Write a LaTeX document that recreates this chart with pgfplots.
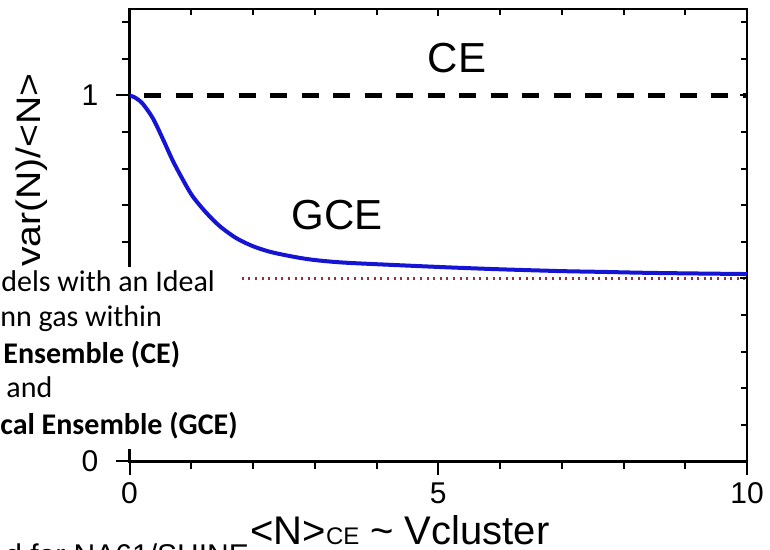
\documentclass[border=0pt]{standalone}
\usepackage{pgfplots}
\pgfplotsset{compat=1.18}
\usepackage{graphicx}
\usepackage{fontspec}
\setmainfont{Liberation Sans}
\newfontfamily\carlito{Carlito}
\definecolor{curveblue}{RGB}{20,20,210}
\definecolor{dotred}{RGB}{150,50,50}

\begin{document}
\begin{tikzpicture}
\useasboundingbox (0,0) rectangle (385pt,275pt);
\clip (0,0) rectangle (385pt,275pt);

% main axis: box, outward ticks on left/bottom
\begin{axis}[
    at={(64.75pt,44.25pt)}, anchor=south west,
    scale only axis, width=308.75pt, height=226.25pt,
    xmin=0, xmax=10, ymin=0, ymax=1.236,
    axis line style={line width=1.3pt},
    xtick={0,5,10}, ytick={0,0.5,1},
    minor xtick={1,2,3,4,6,7,8,9},
    minor ytick={0.1,0.2,0.3,0.4,0.6,0.7,0.8,0.9,1.1,1.2},
    xtick pos=left, ytick pos=left, tick align=outside,
    major tick length=7pt, minor tick length=4pt,
    tick style={line width=1pt, black},
    xticklabel style={font=\fontsize{15}{15}\selectfont},
    yticklabel style={font=\fontsize{15}{15}\selectfont, xshift=-5pt},
    /pgf/number format/assume math mode=true,
]
\addplot[dotred, line width=1.1pt, dash pattern=on 1pt off 2.3pt] coordinates {(0,0.5) (10,0.5)};
\addplot[black, line width=2.3pt, dash pattern=on 8.5pt off 7.25pt, dash phase=8.5pt] coordinates {(0,1) (10,1)};
\addplot[curveblue, line width=2pt, smooth] coordinates {
    (0,1.000) (0.1,0.993) (0.215,0.977) (0.38,0.937) (0.54,0.881)
    (0.70,0.822) (0.86,0.771) (1.02,0.725) (1.24,0.680) (1.46,0.643)
    (1.73,0.610) (2.0,0.588) (2.27,0.573) (2.54,0.563) (2.80,0.555)
    (3.07,0.549) (3.5,0.543) (4.38,0.536) (5.2,0.530) (6.0,0.525)
    (7.0,0.520) (7.62,0.518) (8.5,0.515) (10,0.512)};
\end{axis}

% inward ticks on top/right
\begin{axis}[
    at={(64.75pt,44.25pt)}, anchor=south west,
    scale only axis, width=308.75pt, height=226.25pt,
    xmin=0, xmax=10, ymin=0, ymax=1.236,
    axis line style={draw=none},
    xtick={0,5,10}, ytick={0,0.5,1},
    minor xtick={1,2,3,4,6,7,8,9},
    minor ytick={0.1,0.2,0.3,0.4,0.6,0.7,0.8,0.9,1.1,1.2},
    xtick pos=right, ytick pos=right, tick align=inside,
    major tick length=3.5pt, minor tick length=3pt,
    tick style={line width=1pt, black},
    xticklabels={}, yticklabels={},
]
\end{axis}

\begin{scope}[x=0.5pt,y=0.5pt]
\node[rotate=90, anchor=east, inner sep=0pt] at (32,477)
    {\fontsize{17}{17}\selectfont\scalebox{1.15}[1]{var(N)/<N>}};
\node[font=\fontsize{21}{21}\selectfont] at (457,492) {CE};
\node[font=\fontsize{21}{21}\selectfont] at (337,335) {GCE};
\node[anchor=base, inner sep=0pt] at (400,5)
    {\fontsize{20}{20}\selectfont <N>{\fontsize{12}{12}\selectfont CE} \textasciitilde{} Vcluster};
% slide text box laid over the plot
\fill[white] (0,101) rectangle (242,283);
\begin{scope}[every node/.style={anchor=base west, inner sep=0pt, font=\carlito\fontsize{15}{15}\selectfont}]
\node at (1,258.3) {dels with an Ideal};
\node at (0,223.3) {nn gas within};
\node at (3,186.7) {\bfseries Ensemble (CE)};
\node at (6,152) {and};
\node at (0,115) {\bfseries cal Ensemble (GCE)};
\end{scope}
\node[anchor=base west, inner sep=0pt, font=\fontsize{15}{15}\selectfont] at (5,-16) {d for NA61/SHINE};
\end{scope}
\end{tikzpicture}
\end{document}
